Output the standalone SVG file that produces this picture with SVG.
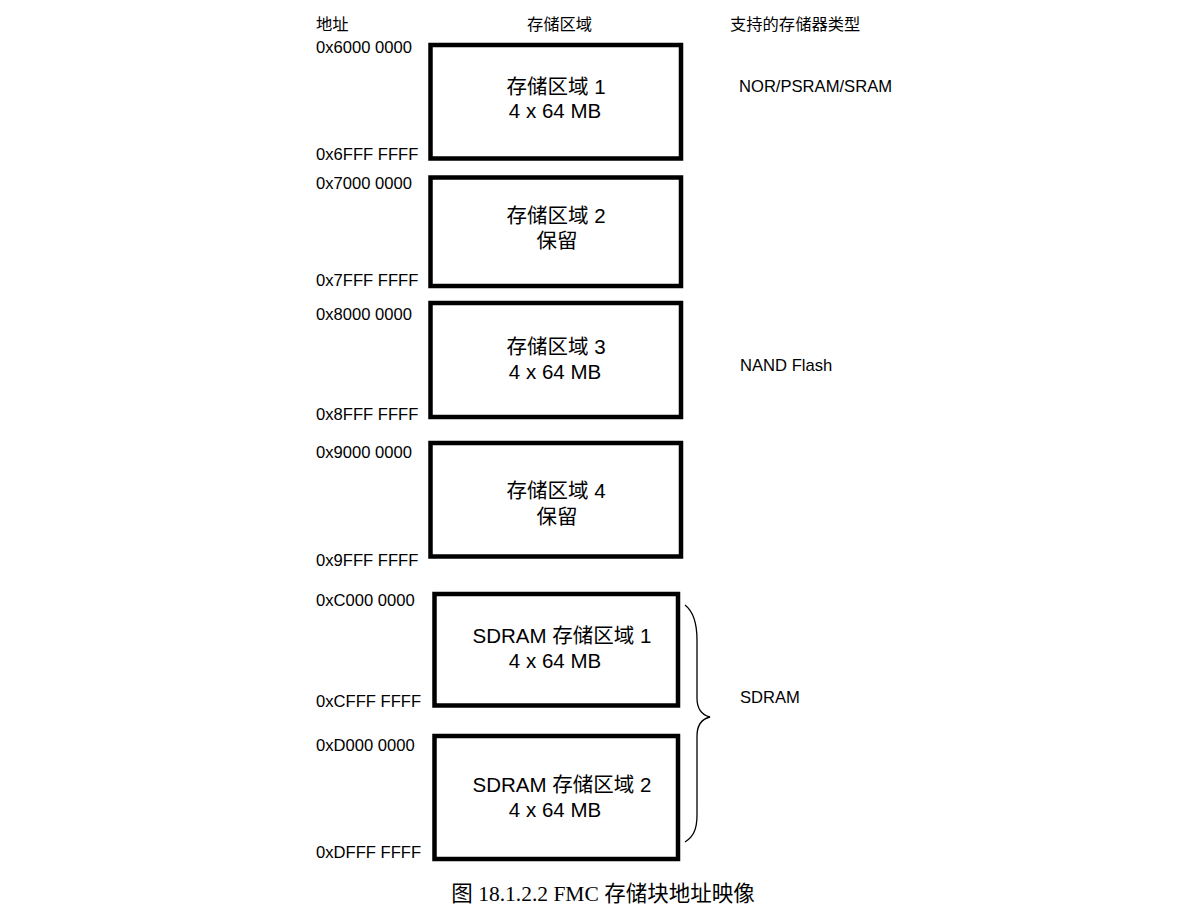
<svg xmlns="http://www.w3.org/2000/svg" width="1200" height="912" viewBox="0 0 1200 912">
<style>
.box{fill:#fff;stroke:#000;stroke-width:4.5}
.addr{font-family:"Liberation Sans","Noto Sans CJK SC",sans-serif;font-size:16.6px;fill:#000}
.hdr{font-family:"Liberation Sans","Noto Sans CJK SC",sans-serif;font-size:16.3px;fill:#000}
.in{font-family:"Liberation Sans","Noto Sans CJK SC",sans-serif;font-size:20.5px;fill:#000;text-anchor:middle}
.cap{font-family:"Liberation Serif","Noto Sans CJK SC",serif;font-size:21.5px;fill:#000;text-anchor:middle}
.brace{fill:none;stroke:#000;stroke-width:1.3}
</style>
<rect width="1200" height="912" fill="#fff"/>
<g id="headers">
<text class="hdr" x="316" y="30">地址</text>
<text class="hdr" x="527" y="30">存储区域</text>
<text class="hdr" x="730" y="30">支持的存储器类型</text>
</g>
<g id="bank1">
<rect class="box" x="430.5" y="45" width="250.5" height="113.5"/>
<text class="in" x="556" y="94">存储区域 1</text>
<text class="in" x="555" y="118">4 x 64 MB</text>
</g>
<g id="bank2">
<rect class="box" x="430.5" y="177.5" width="250.5" height="108.5"/>
<text class="in" x="556" y="223">存储区域 2</text>
<text class="in" x="557" y="248">保留</text>
</g>
<g id="bank3">
<rect class="box" x="430.5" y="303" width="250.5" height="114"/>
<text class="in" x="556" y="354">存储区域 3</text>
<text class="in" x="555" y="379">4 x 64 MB</text>
</g>
<g id="bank4">
<rect class="box" x="430.5" y="443" width="250.5" height="113.5"/>
<text class="in" x="556" y="498">存储区域 4</text>
<text class="in" x="557" y="524">保留</text>
</g>
<g id="sdram1">
<rect class="box" x="434.5" y="594" width="243.5" height="111.5"/>
<text class="in" x="562" y="643">SDRAM 存储区域 1</text>
<text class="in" x="555" y="668">4 x 64 MB</text>
</g>
<g id="sdram2">
<rect class="box" x="434.5" y="736" width="243.5" height="123"/>
<text class="in" x="562" y="792">SDRAM 存储区域 2</text>
<text class="in" x="555" y="817">4 x 64 MB</text>
</g>
<g id="addresses">
<text class="addr" x="316" y="53">0x6000 0000</text>
<text class="addr" x="316" y="160">0x6FFF FFFF</text>
<text class="addr" x="316" y="189">0x7000 0000</text>
<text class="addr" x="316" y="286">0x7FFF FFFF</text>
<text class="addr" x="316" y="320">0x8000 0000</text>
<text class="addr" x="316" y="420">0x8FFF FFFF</text>
<text class="addr" x="316" y="458">0x9000 0000</text>
<text class="addr" x="316" y="566">0x9FFF FFFF</text>
<text class="addr" x="316" y="606">0xC000 0000</text>
<text class="addr" x="316" y="707">0xCFFF FFFF</text>
<text class="addr" x="316" y="751">0xD000 0000</text>
<text class="addr" x="316" y="858">0xDFFF FFFF</text>
</g>
<g id="types">
<text class="addr" x="739" y="92">NOR/PSRAM/SRAM</text>
<text class="addr" x="740" y="371">NAND Flash</text>
<text class="addr" x="740" y="703">SDRAM</text>
</g>
<g id="connectors">
<path class="brace" d="M685,605 C694,612 697,624 697,640 L697,698 C697,709 702,715 710,717 C702,719 697,725 697,736 L697,815 C697,830 693,837 685,842"/>
</g>
<g id="caption">
<text class="cap" x="603" y="901">图 18.1.2.2 FMC 存储块地址映像</text>
</g>
</svg>
